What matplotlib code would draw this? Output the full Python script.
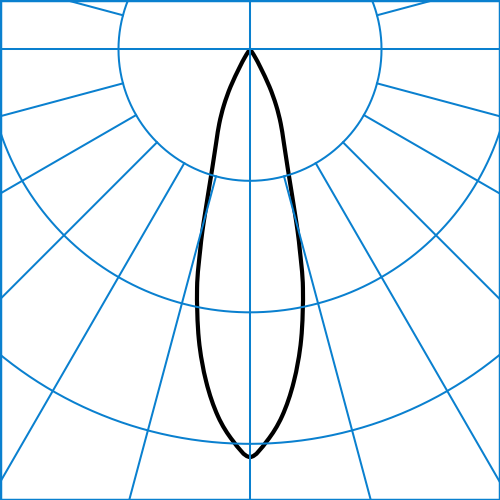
import numpy as np
import matplotlib
matplotlib.use("Agg")
import matplotlib.pyplot as plt
from matplotlib.path import Path
from matplotlib.patches import PathPatch

# polar grid
ring_values = [100, 200, 300]
spoke_angles = np.arange(-180, 181, 15)   # degrees from nadir

# luminous intensity (half curve, symmetric), angle from nadir in degrees
angles = [0, 2.5, 5, 7.5, 10, 12.5, 14, 15, 17.5, 20, 22.5, 25, 27.5, 30, 32.5, 35, 40]
intensity = [310, 298, 280, 255, 224, 186, 156, 136, 96, 75, 61, 47, 32, 16, 8, 3, 0]

blue = "#0a80cf"

fig = plt.figure(figsize=(5, 5), dpi=100)
ax = fig.add_axes([0, 0, 1, 1])
ax.set_xlim(-190.1, 190.1)
ax.set_ylim(-342.7, 37.5)
ax.set_aspect("equal")
ax.set_xticks([])
ax.set_yticks([])
for s in ax.spines.values():
    s.set_color(blue)
    s.set_linewidth(2.5)

# rings
t = np.linspace(0, 2 * np.pi, 721)
for rv in ring_values:
    ax.plot(rv * np.sin(t), -rv * np.cos(t), color=blue, lw=1.45)

# spokes
rmax = 600
for a in spoke_angles:
    th = np.radians(a)
    r0 = 0 if a % 90 == 0 else ring_values[0]
    ax.plot([r0 * np.sin(th), rmax * np.sin(th)],
            [-r0 * np.cos(th), -rmax * np.cos(th)], color=blue, lw=1.45)

# intensity curve, mirrored, drawn as a smooth bezier through the points
ang = np.array(angles, dtype=float)
val = np.array(intensity, dtype=float)
full_ang = np.concatenate([-ang[::-1], ang[1:]])
full_val = np.concatenate([val[::-1], val[1:]])
th = np.radians(full_ang)
pts = np.column_stack([full_val * np.sin(th), -full_val * np.cos(th)])

verts = [pts[0]]
codes = [Path.MOVETO]
n = len(pts)
for i in range(n - 1):
    p0 = pts[max(i - 1, 0)]
    p1 = pts[i]
    p2 = pts[i + 1]
    p3 = pts[min(i + 2, n - 1)]
    c1 = p1 + (p2 - p0) / 6
    c2 = p2 - (p3 - p1) / 6
    verts += [c1, c2, p2]
    codes += [Path.CURVE4] * 3
ax.add_patch(PathPatch(Path(verts, codes), fill=False, edgecolor="black",
                       lw=3, joinstyle="round"))

fig.savefig("out.png", dpi=100)
